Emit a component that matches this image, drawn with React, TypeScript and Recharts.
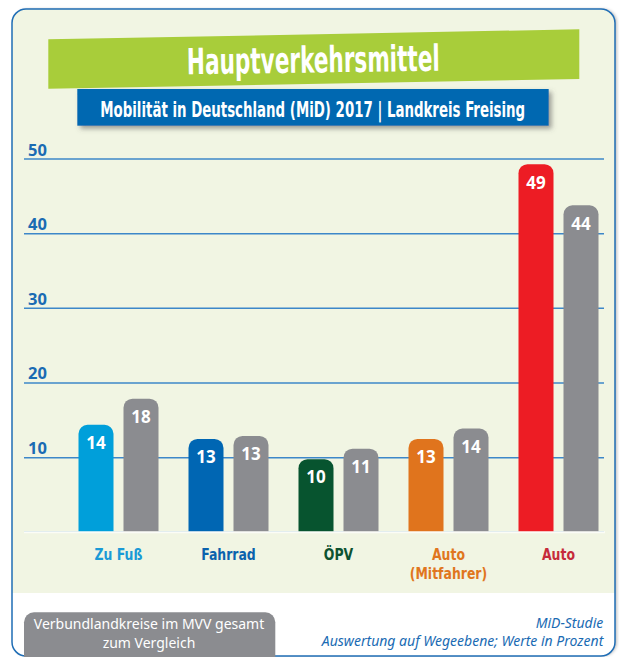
import React, { useLayoutEffect, useRef, useState } from "react";
import { BarChart, Bar, XAxis, YAxis, CartesianGrid, Cell, LabelList, ReferenceLine } from "recharts";

// ---- data ----
const categories = ["Zu Fuß", "Fahrrad", "ÖPV", "Auto (Mitfahrer)", "Auto"];
const freisingValues = [14.4, 12.5, 9.8, 12.5, 49.3];
const mvvValues = [17.9, 12.9, 11.2, 13.9, 43.8];
const yTicks = [0, 10, 20, 30, 40, 50];

const title = "Hauptverkehrsmittel";
const subtitle = "Mobilität in Deutschland (MiD) 2017 | Landkreis Freising";
const legendLines = ["Verbundlandkreise im MVV gesamt", "zum Vergleich"];
const sourceLines = ["MiD-Studie", "Auswertung auf Wegeebene; Werte in Prozent"];

// ---- styles ----
const barColors = ["#009fda", "#0066b3", "#07542f", "#e0741d", "#ed1c24"];
const labelColors = ["#1a9ad6", "#0a62ad", "#0d5230", "#e0761e", "#c62b3b"];
const grayColor = "#8b8c90";
const panelGreen = "#f1f5e3";
const blue = "#1a6bb3";

const NARROW = "'Liberation Sans Narrow', 'DejaVu Sans Condensed', 'Arial Narrow', sans-serif";
const SANS = "'Noto Sans', 'Open Sans', sans-serif";

const chartData = categories.map((name, i) => ({
  name,
  freising: freisingValues[i],
  mvv: mvvValues[i],
}));

// text squeezed horizontally to a target width (condensed look)
const FitText = (props: any) => {
  const { cx, y, width, fontSize, rotate = 0, children } = props;
  const ref = useRef<SVGTextElement | null>(null);
  const [sx, setSx] = useState(0.65);
  useLayoutEffect(() => {
    if (ref.current) {
      const w = ref.current.getComputedTextLength();
      if (w > 0) setSx(width / w);
    }
  }, [width, children]);
  return (
    <g transform={`translate(${cx},${y}) rotate(${rotate}) scale(${sx},1)`}>
      <text ref={ref} x={0} y={0} textAnchor="middle" fill="#ffffff" fontFamily={NARROW} fontWeight={700} fontSize={fontSize}>
        {children}
      </text>
    </g>
  );
};

const YTick = (props: any) => {
  const { x, y, payload } = props;
  if (payload.value === 0) return null;
  return (
    <text x={x - 35.5} y={y - 3.5} textAnchor="start" fill={blue} fontFamily={SANS} fontWeight={700} fontSize={16.5}>
      {payload.value}
    </text>
  );
};

const XTick = (props: any) => {
  const { x, y, payload } = props;
  const idx = categories.indexOf(payload.value);
  const text: string = payload.value;
  const parts = text.includes(" (") ? [text.slice(0, text.indexOf(" (")), text.slice(text.indexOf(" (") + 1)] : [text];
  return (
    <g transform={`translate(${x},${y}) scale(0.84,1)`}>
      {parts.map((p, i) => (
        <text key={i} x={0} y={27.7 + i * 19} textAnchor="middle" fill={labelColors[idx]} fontFamily={NARROW} fontWeight={700} fontSize={16.5}>
          {p}
        </text>
      ))}
    </g>
  );
};

const ValueLabel = (props: any) => {
  const { x, y, width, value } = props;
  return (
    <text x={x + width / 2} y={y + 24.3} textAnchor="middle" fill="#ffffff" fontFamily={SANS} fontWeight={700} fontSize={17}>
      {Math.round(value)}
    </text>
  );
};

const Baseline = (props: any) => {
  const { y1, y2 } = props;
  return <line x1={24} x2={605} y1={y1} y2={y2} stroke="#fbfcf7" strokeWidth={2} />;
};

export default function App() {
  return (
    <div style={{ position: "absolute", left: 0, top: 0, width: 619, height: 657, overflow: "hidden", background: "#ffffff" }}>
      <svg width={619} height={657} style={{ position: "absolute", left: 0, top: 0 }}>
        <defs>
          <clipPath id="panelClip">
            <rect x={12} y={9} width={603} height={647} rx={14} />
          </clipPath>
          <filter id="panelShadow" x="-5%" y="-5%" width="110%" height="110%">
            <feDropShadow dx={2} dy={0} stdDeviation={1.5} floodColor="#000" floodOpacity={0.25} />
          </filter>
          <filter id="boxShadow" x="-5%" y="-30%" width="110%" height="170%">
            <feDropShadow dx={3} dy={3} stdDeviation={2.5} floodColor="#555" floodOpacity={0.55} />
          </filter>
        </defs>
        <rect x={12} y={9} width={603} height={647} rx={14} fill="#ffffff" filter="url(#panelShadow)" />
        <g clipPath="url(#panelClip)">
          <rect x={12} y={9} width={603} height={584} fill={panelGreen} />
        </g>
        <rect x={12} y={9} width={603} height={647} rx={14} fill="none" stroke="#1f6db5" strokeWidth={1.5} />

        {/* title banner */}
        <polygon points="48.3,39.3 579.3,29.3 579.3,79 48.3,88.7" fill="#a8cd3a" />
        <FitText cx={313.5} y={72.5} width={253} fontSize={36} rotate={-0.8}>
          {title}
        </FitText>

        {/* subtitle */}
        <rect x={77.3} y={89} width={471.4} height={36.7} fill="#0067b1" filter="url(#boxShadow)" />
        <FitText cx={312.7} y={117.3} width={425} fontSize={21}>
          {subtitle}
        </FitText>

        {/* footer legend box */}
        <rect x={24} y={612.3} width={251.3} height={70} rx={10} fill={grayColor} />
        {legendLines.map((l, i) => (
          <text key={i} x={149} y={629 + i * 18.7} textAnchor="middle" fill="#ffffff" fontFamily={SANS} fontSize={14}>
            {l}
          </text>
        ))}
        {sourceLines.map((l, i) => (
          <text key={i} x={603.3} y={627.7 + i * 18} textAnchor="end" fill={blue} fontFamily={SANS} fontStyle="italic" fontSize={14}>
            {l}
          </text>
        ))}
      </svg>

      <div style={{ position: "absolute", left: 0, top: 0 }}>
        <BarChart
          width={619}
          height={657}
          data={chartData}
          margin={{ top: 159, right: 5.5, bottom: 74.7, left: 24 }}
          barSize={35}
          barGap={10}
        >
          <CartesianGrid vertical={false} x={24} width={580} stroke="#3d87c9" strokeWidth={1.5} />
          <XAxis
            dataKey="name"
            height={50}
            axisLine={false}
            tickLine={false}
            tickSize={0}
            tickMargin={0}
            interval={0}
            tick={<XTick />}
          />
          <YAxis
            width={39.5}
            domain={[0, 50]}
            ticks={yTicks}
            axisLine={false}
            tickLine={false}
            tickSize={0}
            tickMargin={0}
            tick={<YTick />}
          />
          <Bar dataKey="freising" isAnimationActive={false} radius={[9, 9, 0, 0]}>
            {chartData.map((_, i) => (
              <Cell key={i} fill={barColors[i]} />
            ))}
            <LabelList dataKey="freising" content={<ValueLabel />} />
          </Bar>
          <Bar dataKey="mvv" isAnimationActive={false} radius={[9, 9, 0, 0]} fill={grayColor}>
            <LabelList dataKey="mvv" content={<ValueLabel />} />
          </Bar>
          <ReferenceLine y={0} shape={<Baseline />} ifOverflow="visible" />
        </BarChart>
      </div>
    </div>
  );
}
